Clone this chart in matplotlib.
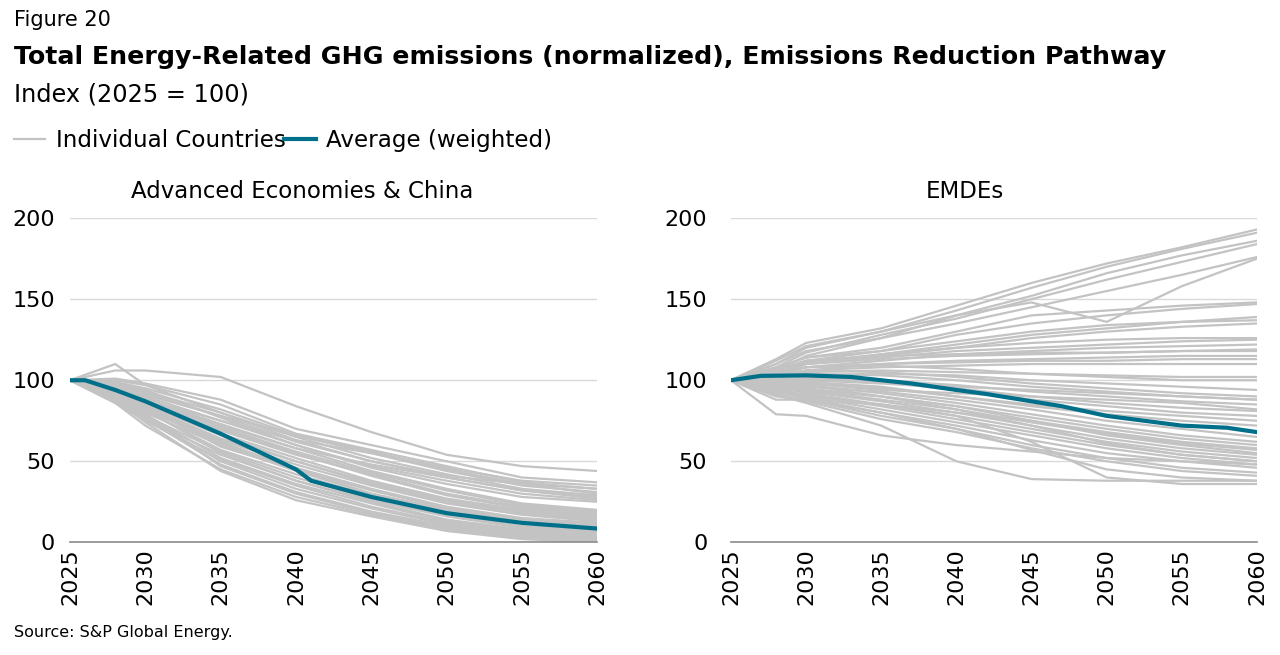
import matplotlib.pyplot as plt
from matplotlib.lines import Line2D

# Years sampled for the individual country lines
years = [2025, 2028, 2030, 2035, 2040, 2045, 2050, 2055, 2060]

# Advanced Economies & China: individual countries (index 2025 = 100)
adv_countries = [
    [100, 106, 106, 102, 84, 68, 54, 47, 44],
    [100, 110, 97, 80, 63, 50, 41, 36, 33],
    [100, 101, 98, 88, 70, 60, 50, 40, 37],
    [100, 100, 97, 85, 67, 57, 47, 37, 33],
    [100, 99, 95, 82, 66, 55, 44, 35, 31],
    [100, 98, 93, 80, 65, 52, 42, 33, 29],
    [100, 97, 92, 78, 62, 50, 40, 32, 28],
    [100, 98, 94, 77, 60, 47, 38, 30, 26],
    [100, 96, 90, 75, 60, 46, 36, 28, 25],
    [100, 95, 88, 73, 58, 44, 33, 24, 20],
    [100, 96, 89, 71, 56, 43, 32, 23, 19],
    [100, 94, 87, 69, 54, 42, 30, 22, 18],
    [100, 93, 86, 70, 55, 41, 29, 21, 17],
    [100, 95, 90, 67, 52, 38, 27, 20, 16],
    [100, 92, 85, 66, 50, 37, 26, 19, 15],
    [100, 93, 84, 64, 50, 36, 25, 18, 14],
    [100, 91, 83, 63, 48, 35, 24, 17, 13],
    [100, 90, 82, 61, 46, 33, 22, 15, 12],
    [100, 92, 84, 59, 45, 32, 21, 14, 11],
    [100, 89, 80, 60, 44, 30, 20, 13, 10],
    [100, 90, 81, 57, 42, 29, 19, 12, 9],
    [100, 88, 78, 56, 40, 27, 17, 10, 8],
    [100, 91, 82, 55, 38, 26, 16, 9, 7],
    [100, 87, 76, 54, 38, 25, 14, 8, 6],
    [100, 89, 79, 52, 36, 24, 13, 7, 5],
    [100, 86, 75, 51, 35, 22, 12, 6, 4],
    [100, 88, 77, 50, 33, 21, 11, 5, 3],
    [100, 87, 76, 48, 31, 19, 10, 4, 2],
    [100, 89, 79, 47, 30, 18, 9, 3, 1],
    [100, 86, 72, 45, 28, 17, 8, 3, 1],
    [100, 88, 74, 44, 26, 16, 7, 2, 0],
    [100, 90, 82, 62, 45, 30, 20, 14, 12],
    [100, 94, 88, 75, 63, 55, 46, 38, 35],
    [100, 97, 91, 78, 66, 56, 45, 36, 30],
    [100, 92, 86, 72, 58, 48, 40, 32, 27],
]

# EMDEs: individual countries
emde_countries = [
    [100, 113, 123, 132, 146, 160, 172, 182, 193],
    [100, 110, 120, 130, 143, 157, 170, 181, 191],
    [100, 112, 121, 130, 140, 152, 166, 177, 186],
    [100, 108, 117, 128, 138, 150, 162, 173, 184],
    [100, 106, 115, 126, 140, 148, 136, 158, 175],
    [100, 110, 118, 126, 135, 145, 155, 165, 176],
    [100, 107, 114, 120, 130, 140, 143, 146, 148],
    [100, 105, 112, 118, 128, 135, 140, 144, 147],
    [100, 104, 110, 116, 122, 128, 132, 136, 139],
    [100, 108, 114, 118, 124, 130, 134, 136, 137],
    [100, 106, 112, 115, 120, 126, 130, 133, 135],
    [100, 105, 110, 114, 118, 120, 122, 124, 125],
    [100, 103, 108, 112, 116, 118, 120, 121, 122],
    [100, 104, 110, 113, 115, 116, 117, 118, 119],
    [100, 106, 112, 115, 116, 117, 117, 118, 118],
    [100, 102, 106, 110, 112, 113, 114, 115, 115],
    [100, 104, 108, 110, 111, 112, 112, 113, 113],
    [100, 103, 106, 108, 109, 110, 110, 110, 110],
    [100, 102, 105, 106, 105, 104, 103, 102, 102],
    [100, 104, 108, 109, 107, 104, 102, 100, 100],
    [100, 101, 103, 104, 103, 100, 98, 96, 94],
    [100, 103, 106, 105, 102, 98, 95, 92, 90],
    [100, 102, 104, 103, 100, 96, 93, 90, 88],
    [100, 101, 102, 100, 97, 93, 90, 87, 85],
    [100, 99, 100, 98, 95, 90, 86, 83, 81],
    [100, 100, 101, 99, 94, 88, 84, 80, 78],
    [100, 98, 98, 95, 90, 85, 81, 78, 75],
    [100, 99, 99, 96, 90, 84, 79, 75, 72],
    [100, 97, 96, 93, 88, 82, 75, 70, 65],
    [100, 98, 97, 92, 86, 79, 72, 66, 62],
    [100, 96, 95, 90, 84, 77, 70, 64, 60],
    [100, 97, 94, 88, 82, 74, 67, 61, 57],
    [100, 95, 93, 87, 80, 72, 64, 58, 54],
    [100, 96, 92, 85, 78, 70, 62, 56, 52],
    [100, 94, 91, 84, 76, 68, 60, 54, 50],
    [100, 95, 90, 82, 74, 66, 58, 52, 48],
    [100, 93, 89, 80, 72, 63, 55, 50, 46],
    [100, 94, 88, 78, 70, 60, 52, 46, 43],
    [100, 92, 87, 76, 68, 58, 50, 44, 41],
    [100, 90, 88, 80, 70, 57, 45, 40, 38],
    [100, 91, 86, 72, 50, 39, 38, 38, 38],
    [100, 88, 88, 85, 78, 62, 40, 36, 36],
    [100, 79, 78, 66, 60, 56, 52, 50, 48],
    [100, 93, 90, 85, 80, 75, 68, 62, 58],
    [100, 99, 98, 94, 92, 90, 88, 86, 82],
    [100, 100, 100, 99, 96, 94, 92, 90, 88],
    [100, 105, 111, 116, 120, 123, 125, 126, 126],
    [100, 96, 94, 90, 84, 75, 66, 60, 55],
    [100, 99, 97, 90, 82, 72, 61, 54, 50],
]

# Weighted averages
adv_avg_years = [2025, 2026, 2028, 2030, 2035, 2040, 2041, 2045, 2050, 2055, 2060]
adv_avg = [100, 100, 94, 87, 67, 45, 38, 28, 18, 12, 8.5]
emde_avg_years = [2025, 2027, 2030, 2033, 2035, 2037, 2040, 2042, 2045, 2047, 2050, 2055, 2058, 2060]
emde_avg = [100, 102.7, 103, 102, 100, 98, 94, 91.5, 87, 84, 78, 72, 70.7, 68]

x_ticks = [2025, 2030, 2035, 2040, 2045, 2050, 2055, 2060]
y_ticks = [0, 50, 100, 150, 200]

GREY = "#c3c3c3"
TEAL = "#00708a"

fig = plt.figure(figsize=(12.8, 6.55), dpi=100)

ax1 = fig.add_axes([0.0547, 0.172, 0.412, 0.495])
ax2 = fig.add_axes([0.571, 0.172, 0.411, 0.495])

panels = [
    (ax1, adv_countries, adv_avg_years, adv_avg, 11),
    (ax2, emde_countries, emde_avg_years, emde_avg, 17),
]
for ax, countries, avg_years, avg, ypad in panels:
    for row in countries:
        ax.plot(years, row, color=GREY, lw=1.6, zorder=2)
    ax.plot(avg_years, avg, color=TEAL, lw=3, zorder=3)
    ax.set_xlim(2025, 2060)
    ax.set_ylim(0, 200)
    ax.set_xticks(x_ticks)
    ax.set_yticks(y_ticks)
    ax.tick_params(axis="x", labelrotation=90, length=0, pad=4, labelsize=16)
    ax.tick_params(axis="y", length=0, pad=ypad, labelsize=16)
    ax.grid(axis="y", color="#d9d9d9", lw=1)
    ax.set_axisbelow(True)
    for s in ["top", "right", "left"]:
        ax.spines[s].set_visible(False)
    ax.spines["bottom"].set_color("#8c8c8c")
    ax.spines["bottom"].set_linewidth(1.2)

# panel titles, centred over each panel including its tick labels
fig.text(302 / 1280, 0.708, "Advanced Economies & China", ha="center", va="center", fontsize=16.5)
fig.text(965 / 1280, 0.708, "EMDEs", ha="center", va="center", fontsize=16.5)

fig.text(0.011, 0.969, "Figure 20", fontsize=15, va="center")
fig.text(0.011, 0.913, "Total Energy-Related GHG emissions (normalized), Emissions Reduction Pathway",
         fontsize=18.2, fontweight="bold", va="center")
fig.text(0.011, 0.855, "Index (2025 = 100)", fontsize=17.3, va="center")
fig.text(0.011, 0.035, "Source: S&P Global Energy.", fontsize=11.5, va="center")

handles = [Line2D([], [], color=GREY, lw=1.6), Line2D([], [], color=TEAL, lw=3)]
fig.legend(handles, ["Individual Countries", "Average (weighted)"], loc="center left",
           bbox_to_anchor=(0.004, 0.786), ncol=2, frameon=False, fontsize=16.6,
           handlelength=1.35, handletextpad=0.45, columnspacing=-0.05, borderaxespad=0)

fig.savefig("out.png", dpi=100)
